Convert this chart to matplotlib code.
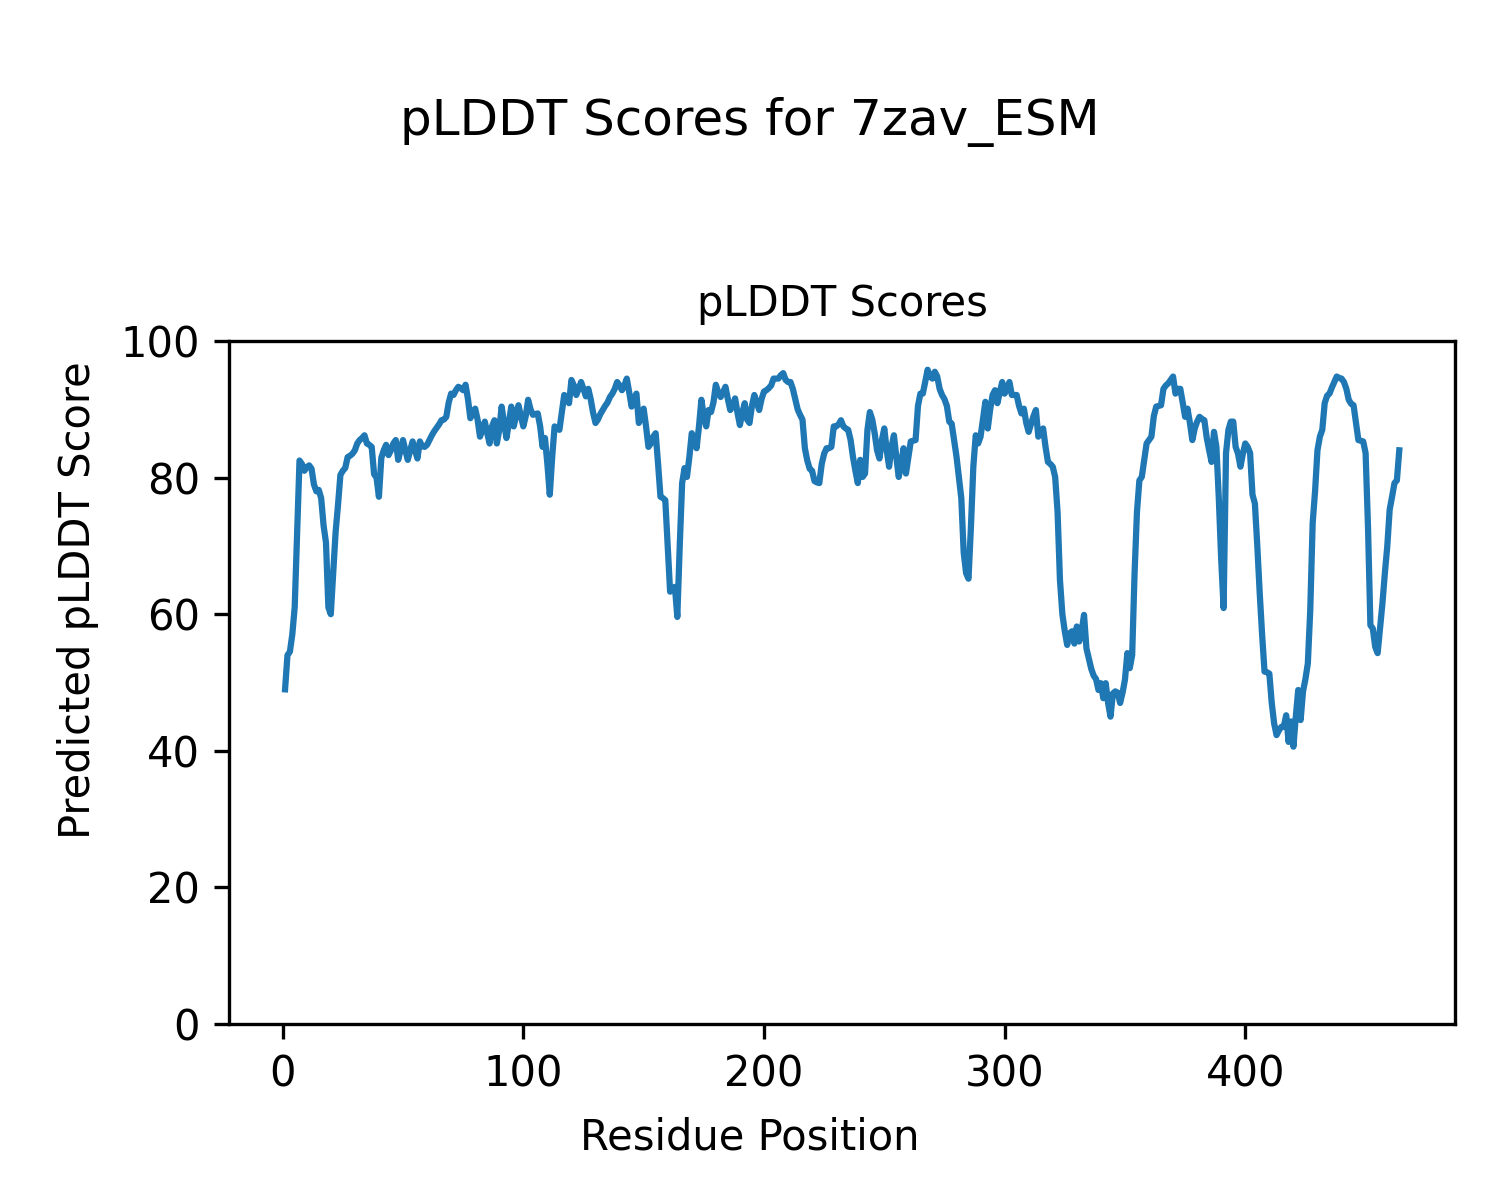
import matplotlib
matplotlib.use("Agg")
import matplotlib.pyplot as plt
import numpy as np

plddt = [
    49, 54, 54.5, 57, 61, 72, 82.5, 82, 81, 81.5,
    81.8, 81.3, 79, 78, 78.2, 77, 73, 70.5, 61, 60,
    66, 72, 76, 80.4, 81, 81.4, 83, 83.2, 83.5, 84,
    85, 85.5, 85.8, 86.2, 85, 84.8, 84.5, 80.5, 80, 77.2,
    82.9, 84, 84.8, 83.3, 84, 85, 85.5, 82.6, 84, 85.5,
    84, 82.6, 84, 85.3, 84, 82.8, 85.3, 84.6, 84.5, 84.8,
    85.5, 86.2, 86.8, 87.3, 87.8, 88.4, 88.5, 88.9, 91, 92.3,
    92.1, 92.8, 93.3, 93.1, 92.8, 93.6, 91.5, 88.7, 89.5, 90.1,
    88.5, 86, 87, 88.2, 86.5, 85, 87.5, 88.4, 85, 87,
    90.4, 88, 85.8, 88, 90.4, 87.5, 89, 90.6, 89, 87.5,
    89, 91.4, 90, 89.2, 89.3, 89.4, 87.5, 84.5, 85.8, 82,
    77.5, 83, 87.5, 87.2, 87, 89.5, 92.1, 91.5, 90.9, 94.3,
    93.5, 92.1, 93, 94, 93, 91.9, 93, 91.5, 89.5, 88,
    88.5, 89.3, 89.9, 90.5, 91, 91.8, 92.3, 93, 94, 93.5,
    92.8, 93.5, 94.5, 92.5, 90.4, 91.5, 92.3, 88, 89, 90.1,
    87.5, 84.5, 85, 86, 86.5, 82, 77.2, 77, 76.7, 70,
    63.3, 63.5, 64, 59.6, 70, 79.2, 81.4, 80.1, 83, 86.5,
    85.5, 84.3, 87.5, 91.4, 89, 87.5, 89.9, 89.6, 91, 93.6,
    92.5, 91.8, 92.5, 93.3, 91.5, 89.9, 90.5, 91.6, 89.5, 87.7,
    89.5, 90.9, 88.5, 88, 90.5, 92.1, 91, 89.9, 91.5, 92.6,
    92.8, 93.1, 93.5, 94.5, 94.5, 94.5, 95, 95.3, 94.3, 94,
    94, 93, 91.5, 90, 89.2, 88.5, 84.3, 82.5, 81.3, 81,
    79.5, 79.3, 79.2, 82, 83.5, 84.3, 84.3, 84.5, 87.5, 87.5,
    87.8, 88.4, 87.5, 87.2, 87, 85.5, 83, 81, 79.2,
    82.6, 80.1, 80.6, 87, 89.6, 88.5, 86.5, 84, 82.8, 85.5,
    87.2, 84, 81.6, 84.5, 86.2, 83, 80.1, 82, 84.3, 80.6,
    83, 85.3, 85.4, 85.5, 90.5, 92.3, 92.3, 94, 95.8, 94.8,
    94.5, 95.5, 94.8, 93, 92.1, 91.5, 90.5, 88.2, 87.9, 85.5,
    83.1, 80, 77, 69, 66, 65.2, 72.8, 81.6, 86.2, 85,
    86, 88.5, 91.1, 87.2, 90, 92.1, 92.8, 90.9, 92.5, 94,
    92.3, 93, 94, 92.1, 92.1, 92.1, 90.5, 89.4, 90.1, 88,
    86.7, 87.9, 89, 89.9, 86, 86.5, 87.2, 84.5, 82.3, 82,
    81.6, 80.1, 75, 65, 60, 57.5, 55.5, 57.2, 57.5, 55.7,
    58.2, 56, 57.5, 59.9, 55, 53.5, 52, 51, 50.5, 48.9,
    49.9, 47.7, 49.9, 47, 45, 48.4, 48.7, 48.5, 47, 48.5,
    50.4, 54.3, 52.1, 54, 66, 75, 79.6, 80.1, 82.5, 85,
    85.5, 86, 89, 90.4, 90.5, 90.6, 93, 93.5, 93.8, 94.3,
    94.8, 92.3, 93, 93, 91, 88.9, 90.1, 88, 85.5, 87.2,
    88.2, 88.9, 88.6, 88.4, 85.8, 84, 82.3, 86.7, 84.5, 77,
    68, 60.9, 83.6, 87, 88.2, 88.2, 84.5, 83.5, 81.6, 83.5,
    85, 84.5, 83.6, 77.5, 76.2, 70, 63.1, 57, 51.6, 51.5,
    51.3, 47, 44, 42.3, 43, 43.5, 43.5, 45.2, 41.3, 44.3,
    40.6, 45, 48.9, 44.5, 48.7, 50.5, 52.8, 60.6, 73.3, 78,
    84, 86, 87, 90.9, 92, 92.3, 93.2, 94, 94.8, 94.6,
    94.5, 94, 93, 91.4, 90.8, 90.6, 88, 85.5, 85.4, 85.3,
    83.6, 72.8, 58.4, 57.9, 55.2, 54.3, 58, 61.6, 66, 69.9,
    75.3, 77.2, 79.2, 79.6, 84,
]

positions = np.arange(1, len(plddt) + 1)

fig = plt.figure(figsize=(5, 4), dpi=300)
ax = fig.add_axes([0.1529, 0.1467, 0.8171, 0.5691])
ax.plot(positions, plddt, color="#1f77b4", linewidth=1.5)
ax.set_ylim(0, 100)
ax.set_title("pLDDT Scores", fontsize=10)
fig.supxlabel("Residue Position", fontsize=10, x=0.5, y=0.0517, va="center")
fig.supylabel("Predicted pLDDT Score", fontsize=10, x=0.052, y=0.5,
              ha="center", va="center")
fig.suptitle("pLDDT Scores for 7zav_ESM", fontsize=12, y=0.919)
fig.savefig("out.png", dpi=300)
